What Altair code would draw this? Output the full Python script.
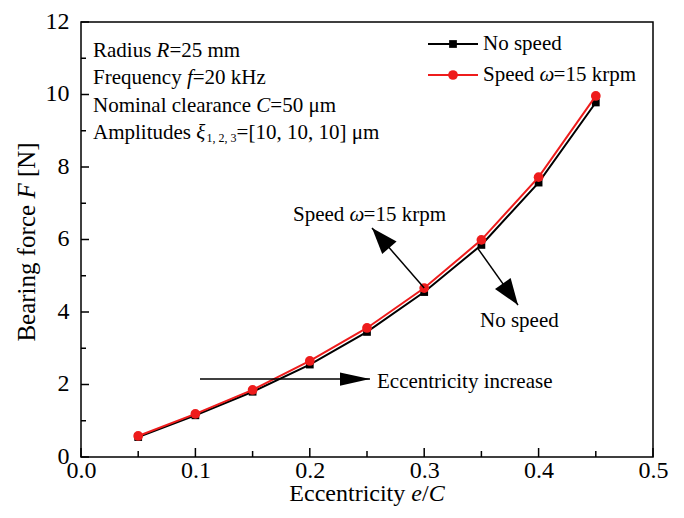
import altair as alt
import pandas as pd

# ---------------- data ----------------
ecc = [0.05, 0.10, 0.15, 0.20, 0.25, 0.30, 0.35, 0.40, 0.45]
force_no_speed = [0.55, 1.15, 1.80, 2.55, 3.45, 4.55, 5.85, 7.57, 9.78]
force_speed = [0.58, 1.19, 1.85, 2.65, 3.56, 4.66, 5.99, 7.72, 9.96]

x_major = [0.0, 0.1, 0.2, 0.3, 0.4, 0.5]
x_minor = [0.05, 0.15, 0.25, 0.35, 0.45]
y_major = [0, 2, 4, 6, 8, 10, 12]
y_minor = [1, 3, 5, 7, 9, 11]

# arrows (data coordinates): start -> tip
diag_x = [0.30, 0.347]
diag_y = [4.66, 5.75]
diag_x2 = [0.2544, 0.382]
diag_y2 = [6.32, 4.19]
diag_ang = [319, 145]
horiz_x = [0.104]
horiz_y = [2.15]
horiz_x2 = [0.2526]

W, H = 572, 435
SERIF = "Liberation Serif"

# Times / Liberation Serif advance widths (per 1000 em)
CW = {" ": 250, "a": 444, "b": 500, "c": 444, "d": 500, "e": 444, "f": 333, "g": 500,
      "h": 500, "i": 278, "j": 278, "k": 500, "l": 278, "m": 778, "n": 500, "o": 500,
      "p": 500, "q": 500, "r": 333, "s": 389, "t": 278, "u": 500, "v": 500, "w": 722,
      "x": 500, "y": 500, "z": 444, "A": 722, "B": 667, "C": 667, "E": 611, "F": 556,
      "H": 722, "N": 722, "R": 667, "S": 556, "=": 564, "[": 333, "]": 333, ",": 250,
      "/": 278, "μ": 576, "ω": 667, "ξ": 493}
CWI = {"R": 611, "f": 278, "F": 611, "C": 667, "e": 444}


def tw(s, size, italic=False):
    tot = 0
    for ch in s:
        if italic and ch in CWI:
            tot += CWI[ch]
        else:
            tot += CW.get(ch, 500)
    return tot * size / 1000.0


one = alt.Data(values=[{"k": 1}])


def rich(parts, x0, y0, size, angle=0, sub_size=11):
    layers = []
    off = 0.0
    for text, style in parts:
        sz = sub_size if style == "sub" else size
        italic = style == "i"
        # leading spaces collapse in SVG: convert them to an offset
        stripped = text.lstrip(" ")
        off += tw(text[: len(text) - len(stripped)], sz, italic)
        text = stripped
        dy = 5 if style == "sub" else 0
        if angle == 0:
            px, py = x0 + off, y0 + dy
        else:
            px, py = x0, y0 - off
        layers.append(
            alt.Chart(one).mark_text(
                text=text, align="left", baseline="middle", font=SERIF,
                fontSize=sz, fontStyle="italic" if italic else "normal",
                angle=angle, color="black",
            ).encode(x=alt.value(px), y=alt.value(py))
        )
        off += tw(text, sz, italic)
    return layers


def centered(parts, cx, cy, size, angle=0):
    total = sum(tw(t, size, s == "i") for t, s in parts)
    if angle == 0:
        return rich(parts, cx - total / 2, cy, size, angle)
    return rich(parts, cx, cy + total / 2, size, angle)


df = pd.DataFrame({
    "e": ecc * 2,
    "F": force_no_speed + force_speed,
    "series": ["No speed"] * len(ecc) + ["Speed"] * len(ecc),
})

xscale = alt.Scale(domain=[0, 0.5], nice=False, zero=False)
yscale = alt.Scale(domain=[0, 12], nice=False, zero=False)

xaxis = alt.Axis(values=x_major, format=".1f", title=None, ticks=False, tickSize=0,
                 domain=False, grid=False, labelFont=SERIF, labelFontSize=24,
                 labelColor="black", labelPadding=1, labelFlush=False, labelOverlap=False)
yaxis = alt.Axis(values=y_major, title=None, ticks=False, tickSize=0, domain=False,
                 grid=False, labelFont=SERIF, labelFontSize=24, labelColor="black",
                 labelPadding=12, labelFlush=False, labelOverlap=False, labelOffset=-1)


def X(field):
    return alt.X(field, type="quantitative", scale=xscale, axis=xaxis, title=None)


def Y(field):
    return alt.Y(field, type="quantitative", scale=yscale, axis=yaxis, title=None)


base_ns = alt.Chart(df[df.series == "No speed"]).encode(x=X("e"), y=Y("F"))
base_s = alt.Chart(df[df.series == "Speed"]).encode(x=X("e"), y=Y("F"))

line_ns = base_ns.mark_line(color="black", strokeWidth=2)
pts_ns = base_ns.mark_point(shape="square", filled=True, color="black", size=60, opacity=1)
line_s = base_s.mark_line(color="#ee1c1c", strokeWidth=2)
pts_s = base_s.mark_point(shape="circle", filled=True, color="#ee1c1c", size=95, opacity=1)

# inward ticks
xt_major = alt.Chart(pd.DataFrame({"e": x_major})).mark_rule(color="black", strokeWidth=1.5).encode(
    x=X("e"), y=alt.value(H), y2=alt.value(H - 9))
xt_minor = alt.Chart(pd.DataFrame({"e": x_minor})).mark_rule(color="black", strokeWidth=1.5).encode(
    x=X("e"), y=alt.value(H), y2=alt.value(H - 6))
yt_major = alt.Chart(pd.DataFrame({"F": y_major})).mark_rule(color="black", strokeWidth=1.5).encode(
    y=Y("F"), x=alt.value(0), x2=alt.value(8))
yt_minor = alt.Chart(pd.DataFrame({"F": y_minor})).mark_rule(color="black", strokeWidth=1.5).encode(
    y=Y("F"), x=alt.value(0), x2=alt.value(5))

# arrows
diag_df = pd.DataFrame({"e": diag_x, "F": diag_y, "e2": diag_x2, "F2": diag_y2, "a": diag_ang})
horiz_df = pd.DataFrame({"e": horiz_x, "F": horiz_y, "e2": horiz_x2, "a": [90]})

diag_rule = alt.Chart(diag_df).mark_rule(color="black", strokeWidth=1.5).encode(
    x=X("e"), y=Y("F"), x2="e2:Q", y2="F2:Q")
diag_head = alt.Chart(diag_df).mark_point(
    shape="M0,0L-0.36,1L0.36,1Z", filled=True, color="black", size=2800, opacity=1
).encode(x=X("e2"), y=Y("F2"), angle=alt.Angle("a:Q", scale=None))
horiz_rule = alt.Chart(horiz_df).mark_rule(color="black", strokeWidth=1.5).encode(
    x=X("e"), y=Y("F"), x2="e2:Q")
horiz_head = alt.Chart(horiz_df).mark_point(
    shape="M0,0L-0.22,1L0.22,1Z", filled=True, color="black", size=3600, opacity=1
).encode(x=X("e2"), y=Y("F"), angle=alt.Angle("a:Q", scale=None))

# legend (manual, inside plot)
leg = [
    alt.Chart(one).mark_rule(color="black", strokeWidth=2).encode(
        x=alt.value(347), x2=alt.value(397), y=alt.value(22)),
    alt.Chart(one).mark_point(shape="square", filled=True, color="black", size=60, opacity=1).encode(
        x=alt.value(372), y=alt.value(22)),
    alt.Chart(one).mark_rule(color="#ee1c1c", strokeWidth=2).encode(
        x=alt.value(347), x2=alt.value(397), y=alt.value(53)),
    alt.Chart(one).mark_point(shape="circle", filled=True, color="#ee1c1c", size=95, opacity=1).encode(
        x=alt.value(372), y=alt.value(53)),
]
leg += rich([("No speed", "n")], 402, 22, 21)
leg += rich([("Speed ", "n"), ("ω", "i"), ("=15 krpm", "n")], 402, 53, 21)

# info text box
info = []
info += rich([("Radius ", "n"), ("R", "i"), ("=25 mm", "n")], 12, 29, 21)
info += rich([("Frequency ", "n"), ("f", "i"), ("=20 kHz", "n")], 12, 56, 21)
info += rich([("Nominal clearance ", "n"), ("C", "i"), ("=50 μm", "n")], 12, 84, 21)
info += rich([("Amplitudes ", "n"), ("ξ", "i"), ("1, 2, 3", "sub"), ("=[10, 10, 10] μm", "n")],
             12, 111, 21, sub_size=12)

# annotations (pixel positions relative to plot area)
ann = []
ann += rich([("Speed ", "n"), ("ω", "i"), ("=15 krpm", "n")], 212, 193, 21)
ann += rich([("No speed", "n")], 399, 299, 21)
ann += rich([("Eccentricity increase", "n")], 296, 360, 21)

# axis titles
titles = []
titles += centered([("Eccentricity ", "n"), ("e", "i"), ("/", "n"), ("C", "i")], W / 2, 472, 24)
titles += centered([("Bearing force ", "n"), ("F", "i"), (" [N]", "n")], -54, 220, 25, angle=270)

chart = alt.layer(
    line_ns, pts_ns, line_s, pts_s,
    xt_major, xt_minor, yt_major, yt_minor,
    diag_rule, diag_head, horiz_rule, horiz_head,
    *leg, *info, *ann, *titles,
).properties(
    width=W, height=H,
    autosize=alt.AutoSizeParams(type="none"),
    padding={"left": 73, "top": 14, "right": 23, "bottom": 53},
    background="white",
).configure_view(
    stroke="black", strokeWidth=1.5
)

chart.save("out.html", embed_options={"renderer": "svg", "actions": False})
